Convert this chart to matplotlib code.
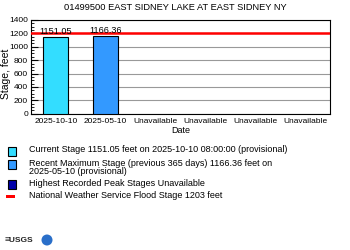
import matplotlib
matplotlib.use("Agg")
import matplotlib.pyplot as plt
from matplotlib.patches import Rectangle, Ellipse
from matplotlib.ticker import MultipleLocator

plt.rcParams['font.family'] = ['Liberation Sans', 'DejaVu Sans']

# data
categories = ["2025-10-10", "2025-05-10", "Unavailable", "Unavailable", "Unavailable", "Unavailable"]
stages = [1151.05, 1166.36]
bar_colors = ["#33DDFF", "#3399FF"]
flood_stage = 1203
legend_labels = [
    "Current Stage 1151.05 feet on 2025-10-10 08:00:00 (provisional)",
    "Recent Maximum Stage (previous 365 days) 1166.36 feet on\n2025-05-10 (provisional)",
    "Highest Recorded Peak Stages Unavailable",
    "National Weather Service Flood Stage 1203 feet",
]
legend_colors = ["#33DDFF", "#3399FF", "#0000AA", "red"]

fig = plt.figure(figsize=(3.5, 2.5), dpi=100)
ax = fig.add_axes([0.088, 0.545, 0.855, 0.375])

xpos = list(range(len(categories)))
ax.bar(xpos[:len(stages)], stages, width=0.5, color=bar_colors,
       edgecolor="black", linewidth=0.8, zorder=3)
for x, v in zip(xpos, stages):
    ax.text(x, v + 5, f"{v:.2f}", ha="center", va="bottom", fontsize=6.6, zorder=5)
ax.axhline(flood_stage, color="red", lw=1.8, zorder=4)

ax.set_xlim(-0.5, len(categories) - 0.5)
ax.set_ylim(0, 1400)
ax.yaxis.set_major_locator(MultipleLocator(200))
ax.yaxis.set_minor_locator(MultipleLocator(50))
ax.grid(axis="y", color="#999999", lw=0.8, zorder=0)
ax.set_xticks(xpos)
ax.set_xticklabels(categories, fontsize=6)
ax.tick_params(axis="x", length=0, pad=3)
ax.tick_params(axis="y", which="major", direction="in", length=5, labelsize=6, pad=2)
ax.tick_params(axis="y", which="minor", direction="in", length=2.5)
for s in ax.spines.values():
    s.set_linewidth(0.8)
ax.set_xlabel("Date", fontsize=6.5, labelpad=1)
fig.text(6 / 350, 1 - 74 / 250, "Stage, feet", rotation=90, ha="center", va="center",
         fontsize=7.5)
fig.text(0.5, 0.972, "01499500 EAST SIDNEY LAKE AT EAST SIDNEY NY",
         ha="center", va="center", fontsize=6.7)

# legend drawn below the axes
ys = [151, 164, 184, 196]
for i, (lab, col) in enumerate(zip(legend_labels, legend_colors)):
    y = ys[i]
    if col == "red":
        fig.add_artist(Rectangle((6 / 350, 1 - (y + 1.5) / 250), 9 / 350, 3 / 250,
                                 transform=fig.transFigure, facecolor=col, edgecolor="none"))
    else:
        fig.add_artist(Rectangle((7.5 / 350, 1 - (y + 4.5) / 250), 8.5 / 350, 8.5 / 250,
                                 transform=fig.transFigure, facecolor=col,
                                 edgecolor="black", lw=0.8))
    for j, line in enumerate(lab.split("\n")):
        fig.text(29 / 350, 1 - (y - 1 + 9 * j) / 250, line, ha="left", va="center",
                 fontsize=6.5, transform=fig.transFigure)

# small logos at bottom left
fig.text(5 / 350, 1 - 240 / 250, "\u2261USGS", fontsize=6, fontweight="bold",
         ha="left", va="center", color="#222222")
fig.add_artist(Ellipse((47 / 350, 1 - 240 / 250), 11 / 350, 11 / 250,
                       transform=fig.transFigure, facecolor="#2a6fc9", edgecolor="none"))

fig.savefig("out.png", dpi=100)
